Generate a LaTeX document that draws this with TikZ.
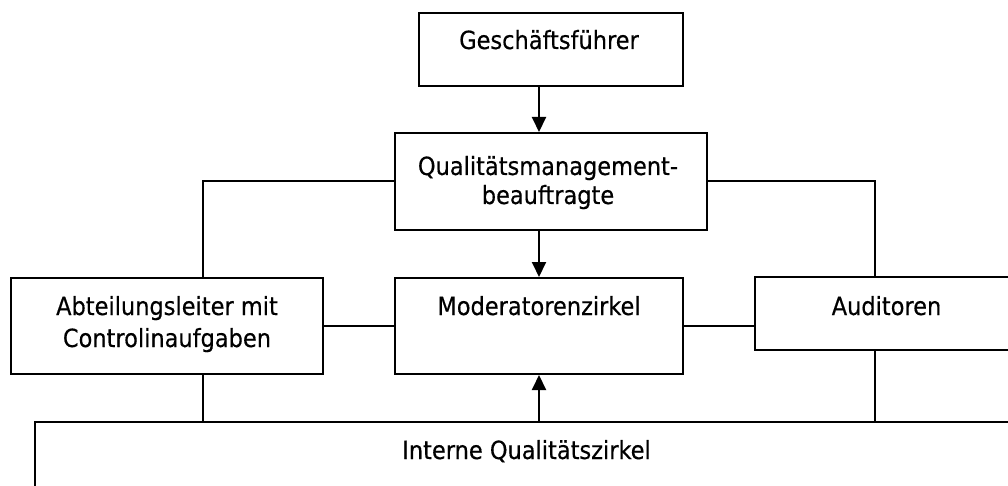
\documentclass[tikz,border=0pt]{standalone}
\usepackage{fontspec}
\setmainfont{DejaVu Sans Condensed}[UprightFeatures={FakeBold=0.4}]
\usetikzlibrary{arrows.meta}
\begin{document}
\begin{tikzpicture}[x=1pt,y=-1pt,
  box/.style={draw=black,line width=2pt,rectangle,inner sep=0pt,minimum width=#1},
  lbl/.style={anchor=base,inner sep=0pt,font=\fontsize{25}{30}\selectfont},
  link/.style={line width=2pt},
  arr/.style={line width=2pt,-{Triangle[length=15pt,width=14pt]}}]
\useasboundingbox (0,0) rectangle (1008,486);
\clip (0,0) rectangle (1008,486);
\fill[white] (0,0) rectangle (1008,486);
% boxes
\node[box=264pt,minimum height=73pt] (gf) at (551,49.5) {};
\node[box=312pt,minimum height=97pt] (qm) at (551,181.5) {};
\node[box=312pt,minimum height=96pt] (al) at (167,326) {};
\node[box=288pt,minimum height=96pt] (mz) at (539,326) {};
\node[box=263pt,minimum height=73pt] (au) at (886.5,313.5) {};
\node[box=983pt,minimum height=98pt] (iq) at (526.5,471) {};
% texts
\node[lbl] (tgf) at (549,49) {Geschäftsführer};
\node[lbl] (tqm1) at (548,175) {Qualitätsmanagement-};
\node[lbl] (tqm2) at (548,204) {beauftragte};
\node[lbl] (tal1) at (167,315) {Abteilungsleiter mit};
\node[lbl] (tal2) at (167,347) {Controlinaufgaben};
\node[lbl] (tmz) at (539,315) {Moderatorenzirkel};
\node[lbl] (tau) at (886.5,315) {Auditoren};
\node[lbl] (tiq) at (526.5,459) {Interne Qualitätszirkel};
% helper columns
\coordinate (lx) at (203,0);
\coordinate (rx) at (875,0);
% connectors
\draw[arr] (gf.south -| mz.north) -- (qm.north -| mz.north);
\draw[arr] (qm.south -| mz.north) -- (mz.north);
\draw[arr] (iq.north -| mz.south) -- (mz.south);
\draw[link] (qm.west) -| (al.north -| lx);
\draw[link] (qm.east) -| (au.north -| rx);
\draw[link] (al.east) -- (mz.west);
\draw[link] (mz.east) -- (mz.east -| au.west);
\draw[link] (al.south -| lx) -- (iq.north -| lx);
\draw[link] (au.south -| rx) -- (iq.north -| rx);
\end{tikzpicture}
\end{document}
